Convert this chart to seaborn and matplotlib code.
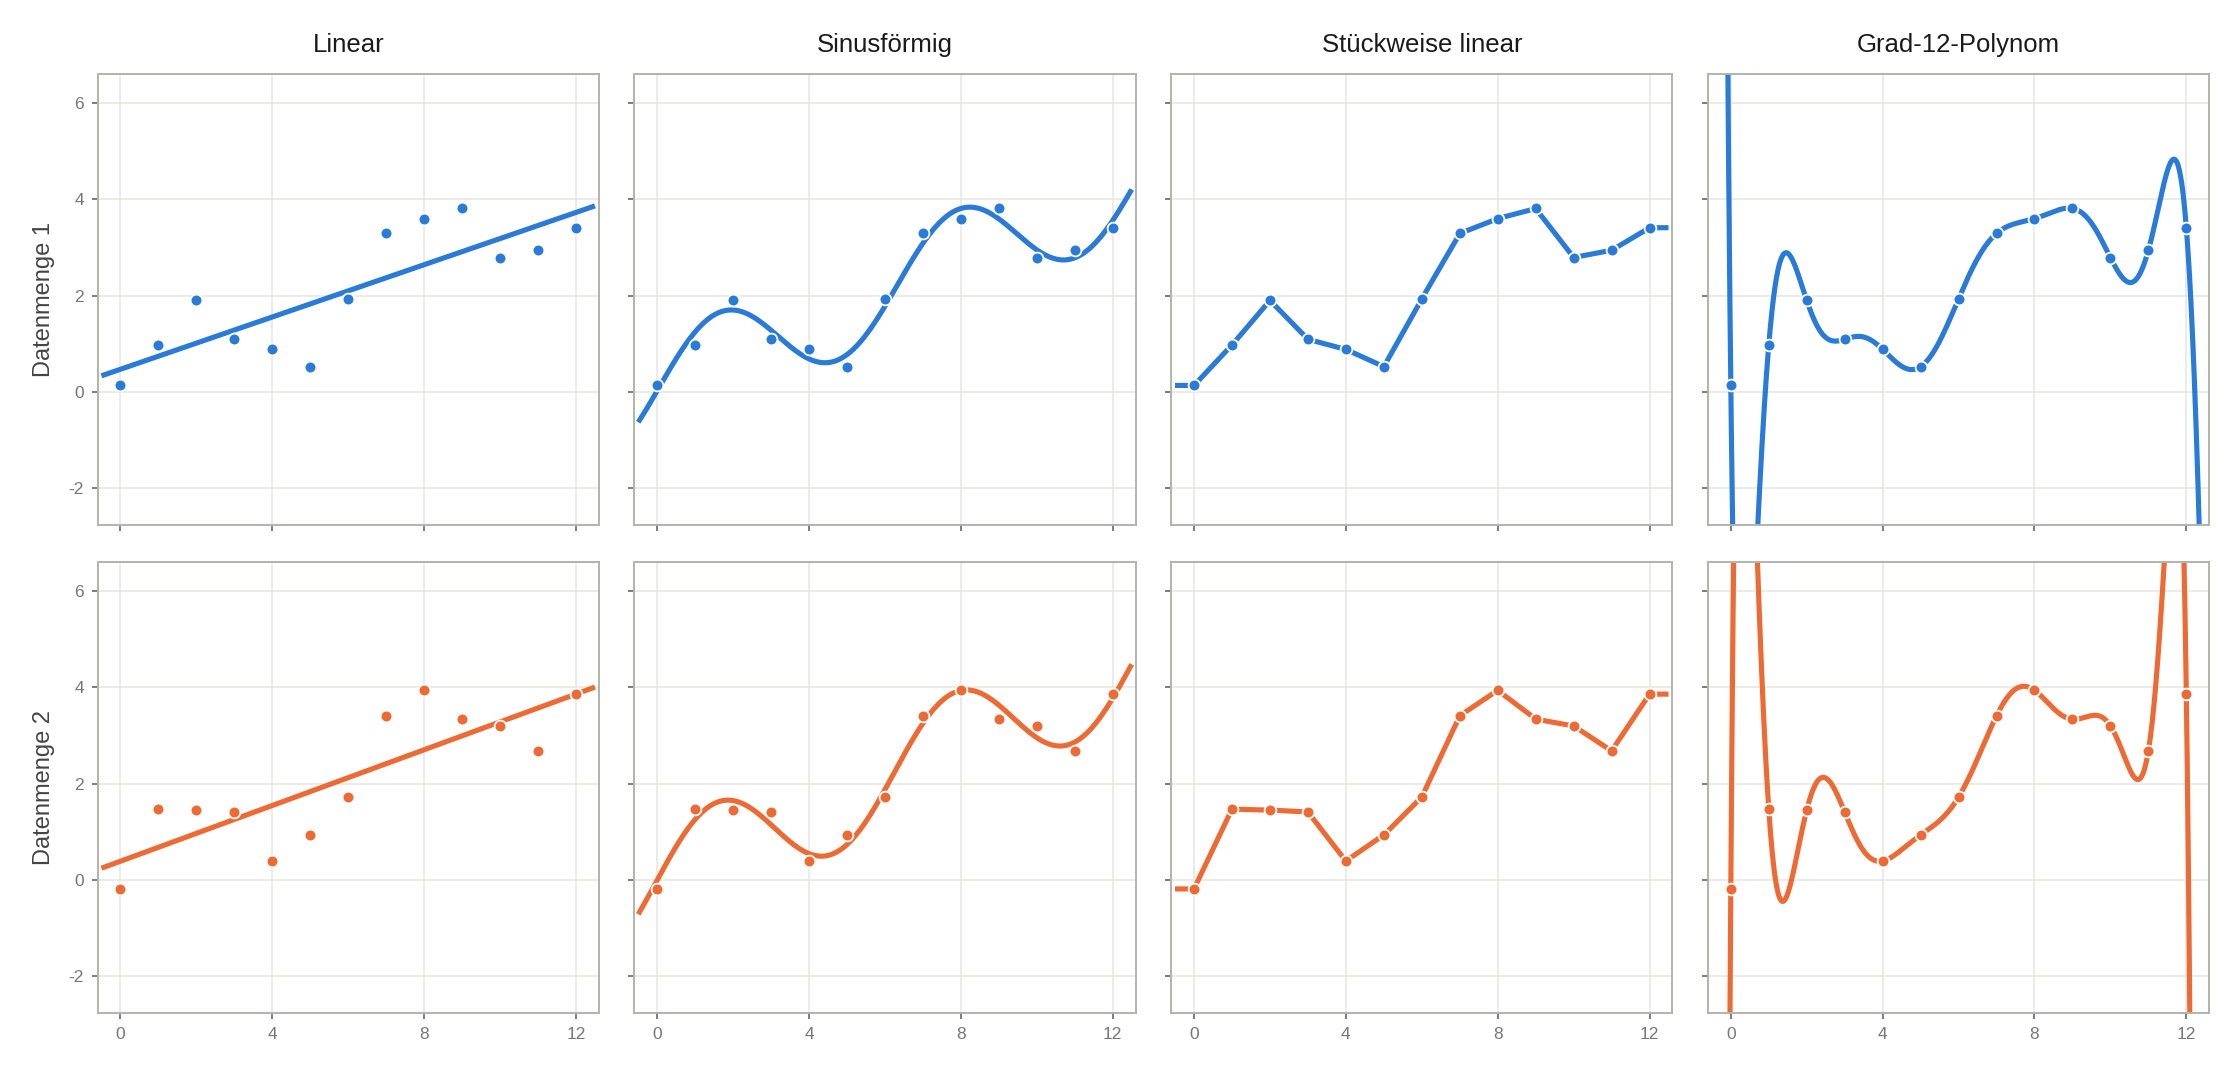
import matplotlib
matplotlib.use("Agg")
import matplotlib.pyplot as plt
import numpy as np
import seaborn as sns

# data
x_vals = np.arange(13)
menge_1 = [0.13, 0.97, 1.90, 1.09, 0.88, 0.52, 1.93, 3.29, 3.60, 3.81, 2.79, 2.94, 3.41]
menge_2 = [-0.19, 1.47, 1.45, 1.41, 0.39, 0.93, 1.72, 3.41, 3.94, 3.34, 3.20, 2.68, 3.86]

row_labels = ["Datenmenge 1", "Datenmenge 2"]
col_titles = ["Linear", "Sinusförmig", "Stückweise linear", "Grad-12-Polynom"]
colors = ["#2a7ad8", "#ed6a35"]

x_lim = (-0.6, 12.6)
y_lim = (-2.78, 6.6)
curve_range = (-0.5, 12.5)


def fit_linear(x, y, grid):
    b, a = np.polyfit(x, y, 1)
    return a + b * grid


def fit_sine(x, y, grid, w=1.0):
    # trend plus one sine wave: a + b*x + c*sin(w*x) + d*cos(w*x)
    A = np.column_stack([np.ones_like(x), x, np.sin(w * x), np.cos(w * x)])
    c = np.linalg.lstsq(A, y, rcond=None)[0]
    return c[0] + c[1] * grid + c[2] * np.sin(w * grid) + c[3] * np.cos(w * grid)


def fit_piecewise(x, y, grid):
    return np.interp(grid, x, y)


def fit_poly12(x, y, grid):
    p = np.polynomial.Polynomial.fit(x, y, 12)
    return p(grid)


fits = [fit_linear, fit_sine, fit_piecewise, fit_poly12]

sns.set_theme(style="whitegrid")
plt.rcParams["font.family"] = ["Liberation Sans", "DejaVu Sans"]

fig, axes = plt.subplots(2, 4, figsize=(22.4, 10.8), dpi=100, sharex=True, sharey=True)
fig.subplots_adjust(left=0.0436, right=0.9862, top=0.9312, bottom=0.0616,
                    wspace=0.0713, hspace=0.082)

grid = np.linspace(curve_range[0], curve_range[1], 3000)
x = x_vals.astype(float)

for r, data in enumerate([menge_1, menge_2]):
    y = np.array(data)
    for c, fit in enumerate(fits):
        ax = axes[r, c]
        curve = fit(x, y, grid)
        sns.lineplot(x=grid, y=curve, ax=ax, color=colors[r], linewidth=3.7,
                     sort=False, estimator=None, zorder=2, solid_capstyle="butt")
        sns.scatterplot(x=x, y=y, ax=ax, color=colors[r], s=72,
                        edgecolor="white", linewidth=1.3, zorder=3)
        ax.set_xlim(*x_lim)
        ax.set_ylim(*y_lim)
        ax.set_xticks([0, 4, 8, 12])
        ax.set_yticks([-2, 0, 2, 4, 6])
        ax.set_xticklabels(["0", "4", "8", "12"])
        ax.set_yticklabels(["-2", "0", "2", "4", "6"])
        ax.grid(True, color="#e5e5e0", linewidth=1.1)
        ax.set_facecolor("white")
        for s in ax.spines.values():
            s.set_visible(True)
            s.set_color("#b3b3ae")
            s.set_linewidth(1.4)
        ax.tick_params(axis="both", which="major", length=4, width=1.2,
                       color="#666666", labelcolor="#777777", labelsize=12.5,
                       pad=6, bottom=True, left=True)
        ax.set_xlabel("")
        ax.set_ylabel("")
        if r == 0:
            ax.set_title(col_titles[c], fontsize=18.5, color="#1a1a1a", pad=16)
        if c == 0:
            ax.set_ylabel(row_labels[r], fontsize=17, color="#444444", labelpad=10)
        if c > 0:
            ax.tick_params(labelleft=False)
        if r == 0:
            ax.tick_params(labelbottom=False)

fig.savefig("out.png", dpi=100, facecolor="white")
